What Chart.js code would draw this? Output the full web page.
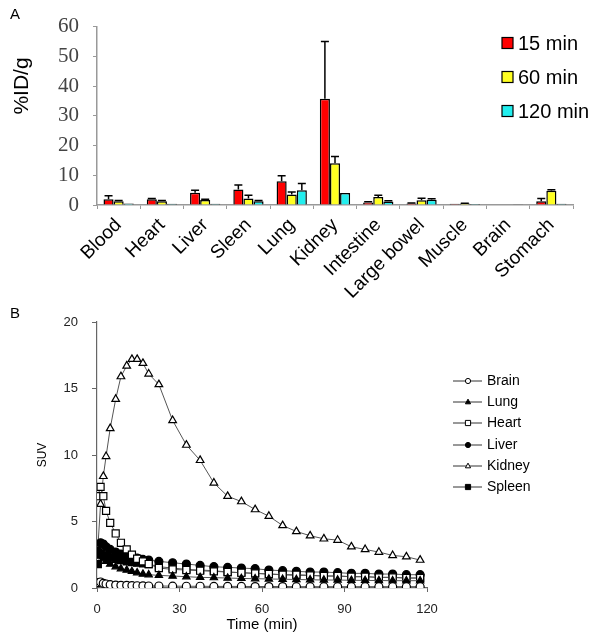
<!DOCTYPE html>
<html>
<head>
<meta charset="utf-8">
<script src="https://cdn.jsdelivr.net/npm/chart.js@4.4.1/dist/chart.umd.min.js"></script>
<style>
  body { margin: 0; background: #fff; }
  #wrap { position: relative; width: 600px; height: 637px; }
  #chartA { position: absolute; left: 0; top: 0; }
  #chartB { position: absolute; left: 0; top: 300px; }
</style>
</head>
<body>
<div id="wrap">
  <canvas id="chartA" width="600" height="320"></canvas>
  <canvas id="chartB" width="600" height="337"></canvas>
</div>
<script>
// --- Panel A: biodistribution (%ID/g) ---
const organs = ['Blood', 'Heart', 'Liver', 'Sleen', 'Lung', 'Kidney', 'Intestine', 'Large bowel', 'Muscle', 'Brain', 'Stomach'];
const min15 = [1.9, 1.9, 4.1, 5.2, 8.0, 35.7, 0.8, 0.5, 0.4, 0.2, 1.3];
const min15Err = [1.2, 0.3, 0.9, 1.5, 1.8, 19.3, 0.3, 0.2, 0, 0, 0.9];
const min60 = [1.3, 1.3, 1.7, 2.2, 3.5, 14.0, 2.7, 1.6, 0.5, 0.2, 4.8];
const min60Err = [0.2, 0.2, 0.2, 1.1, 0.9, 2.3, 0.6, 0.7, 0.1, 0, 0.3];
const min120 = [0.5, 0.4, 0.4, 1.3, 5.0, 4.0, 1.2, 1.8, 0.3, 0.1, 0.4];
const min120Err = [0, 0, 0, 0.2, 2.2, 0, 0.2, 0.3, 0, 0, 0];
const idTicks = [0, 10, 20, 30, 40, 50, 60];

// --- Panel B: time-activity curves (SUV) ---
const timeMin = [0.3, 1.3, 2.3, 3.3, 4.8, 6.8, 8.7, 10.8, 12.7, 14.6, 16.7, 18.8,
  22.5, 27.5, 32.5, 37.5, 42.5, 47.5, 52.5, 57.5, 62.5, 67.5, 72.5, 77.5, 82.5, 87.5, 92.5, 97.5, 102.5, 107.5, 112.5, 117.5];
const brain = [0.4, 0.45, 0.35, 0.3, 0.25, 0.22, 0.2, 0.2, 0.18, 0.17, 0.16, 0.15,
  0.15, 0.14, 0.13, 0.13, 0.12, 0.12, 0.12, 0.11, 0.11, 0.11, 0.1, 0.1, 0.1, 0.1, 0.1, 0.1, 0.1, 0.1, 0.1, 0.1];
const lung = [2.6, 2.4, 2.2, 2.0, 1.8, 1.6, 1.45, 1.35, 1.25, 1.15, 1.05, 1.0,
  0.95, 0.9, 0.85, 0.8, 0.78, 0.75, 0.72, 0.7, 0.68, 0.66, 0.64, 0.62, 0.6, 0.6, 0.58, 0.57, 0.56, 0.55, 0.55, 0.55];
const heart = [6.9, 7.6, 6.9, 5.8, 4.9, 4.1, 3.4, 2.9, 2.5, 2.2, 2.0, 1.8,
  1.5, 1.4, 1.35, 1.3, 1.25, 1.2, 1.15, 1.1, 1.05, 1.0, 1.0, 0.95, 0.9, 0.9, 0.85, 0.85, 0.8, 0.8, 0.75, 0.75];
const liver = [2.8, 3.4, 3.3, 3.1, 2.9, 2.7, 2.55, 2.45, 2.35, 2.25, 2.15, 2.1,
  2.0, 1.9, 1.8, 1.7, 1.6, 1.55, 1.5, 1.45, 1.35, 1.3, 1.25, 1.2, 1.2, 1.15, 1.1, 1.1, 1.05, 1.05, 1.0, 1.0];
const kidney = [3.0, 6.3, 8.4, 9.9, 12.0, 14.2, 15.9, 16.7, 17.2, 17.2, 16.9, 16.1,
  15.3, 12.6, 10.75, 9.6, 7.9, 6.9, 6.5, 5.9, 5.4, 4.7, 4.25, 3.93, 3.7, 3.6, 3.1, 2.9, 2.7, 2.45, 2.35, 2.1];
const spleen = [1.8, 2.6, 2.5, 2.4, 2.3, 2.2, 2.1, 2.0, 1.95, 1.9, 1.85, 1.8,
  1.6, 1.5, 1.4, 1.35, 1.3, 1.2, 1.15, 1.1, 1.05, 1.0, 0.95, 0.95, 0.9, 0.9, 0.85, 0.85, 0.8, 0.8, 0.75, 0.75];
const suvTicks = [0, 5, 10, 15, 20];
const timeTicks = [0, 30, 60, 90, 120];

const SANS = 'Arial, "Liberation Sans", sans-serif';

// upward error bars with caps
const errorBars = {
  id: 'errorBars',
  afterDatasetsDraw(chart) {
    const ctx = chart.ctx;
    const y = chart.scales.y;
    chart.data.datasets.forEach((ds, i) => {
      const meta = chart.getDatasetMeta(i);
      meta.data.forEach((bar, j) => {
        const err = ds.errors[j];
        if (!err) return;
        const top = y.getPixelForValue(ds.data[j] + err);
        ctx.save();
        ctx.strokeStyle = '#000';
        ctx.lineWidth = 1.5;
        ctx.beginPath();
        ctx.moveTo(bar.x, bar.y);
        ctx.lineTo(bar.x, top);
        ctx.moveTo(bar.x - 4, top);
        ctx.lineTo(bar.x + 4, top);
        ctx.stroke();
        ctx.restore();
      });
    });
  }
};

// legend boxes + y title + panel letter for A
const decorA = {
  id: 'decorA',
  afterDraw(chart) {
    const ctx = chart.ctx;
    ctx.save();
    ctx.fillStyle = '#000';
    ctx.font = '15px ' + SANS;
    ctx.textAlign = 'left';
    ctx.textBaseline = 'middle';
    ctx.fillText('A', 10, 15);

    // y title
    ctx.save();
    ctx.translate(22, 86);
    ctx.rotate(-Math.PI / 2);
    ctx.textAlign = 'center';
    ctx.font = '21px ' + SANS;
    ctx.fillText('%ID/g', 0, 0);
    ctx.restore();

    // legend
    const rows = [43, 77, 111];
    chart.data.datasets.forEach((ds, i) => {
      const yc = rows[i];
      ctx.fillStyle = ds.backgroundColor;
      ctx.fillRect(502, yc - 5.5, 11, 11);
      ctx.strokeStyle = '#000';
      ctx.lineWidth = 1.2;
      ctx.strokeRect(502, yc - 5.5, 11, 11);
      ctx.fillStyle = '#000';
      ctx.font = '20px ' + SANS;
      ctx.fillText(ds.label, 518, yc + 1);
    });
    ctx.restore();
  }
};

new Chart(document.getElementById('chartA'), {
  type: 'bar',
  data: {
    labels: organs,
    datasets: [
      { label: '15 min', data: min15, errors: min15Err, backgroundColor: '#ff0000' },
      { label: '60 min', data: min60, errors: min60Err, backgroundColor: '#ffff22' },
      { label: '120 min', data: min120, errors: min120Err, backgroundColor: '#22eeee' }
    ].map(ds => Object.assign(ds, {
      borderColor: '#000',
      borderWidth: 1.5,
      categoryPercentage: 0.7,
      barPercentage: 1.0
    }))
  },
  options: {
    responsive: false,
    animation: false,
    layout: { padding: { top: 25, right: 27, left: 0, bottom: 0 } },
    plugins: { legend: { display: false }, tooltip: { enabled: false } },
    scales: {
      x: {
        afterFit: s => { s.height = 115; },
        grid: { offset: true, drawOnChartArea: false, tickLength: 4, color: '#999' },
        border: { color: '#999', width: 1.5 },
        ticks: {
          autoSkip: false, minRotation: 45, maxRotation: 45, padding: 5,
          color: '#000', font: { family: SANS, size: 19 }
        }
      },
      y: {
        min: 0, max: 60,
        afterFit: s => { s.width = 97; },
        afterBuildTicks: s => { s.ticks = idTicks.map(v => ({ value: v })); },
        grid: { drawOnChartArea: false, tickLength: 4, color: '#999' },
        border: { color: '#999', width: 1.5 },
        ticks: { padding: 14, color: '#444', font: { family: '"Liberation Serif", serif', size: 21 } }
      }
    }
  },
  plugins: [errorBars, decorA]
});

// marker drawing for panel B legend
function drawMarker(ctx, style, fill, x, y, r) {
  ctx.beginPath();
  if (style === 'circle') {
    ctx.arc(x, y, r, 0, Math.PI * 2);
  } else if (style === 'rect') {
    ctx.rect(x - r, y - r, 2 * r, 2 * r);
  } else {
    ctx.moveTo(x, y - r * 1.1);
    ctx.lineTo(x + r, y + r * 0.7);
    ctx.lineTo(x - r, y + r * 0.7);
    ctx.closePath();
  }
  ctx.fillStyle = fill;
  ctx.fill();
  ctx.strokeStyle = '#000';
  ctx.lineWidth = 1;
  ctx.stroke();
}

const decorB = {
  id: 'decorB',
  afterDraw(chart) {
    const ctx = chart.ctx;
    ctx.save();
    ctx.fillStyle = '#000';
    ctx.font = '15px ' + SANS;
    ctx.textBaseline = 'middle';
    ctx.fillText('B', 10, 14);

    const rows = [81, 102, 123, 145, 166, 187];
    chart.data.datasets.forEach((ds, i) => {
      const yc = rows[i];
      ctx.strokeStyle = '#333';
      ctx.lineWidth = 1;
      ctx.beginPath();
      ctx.moveTo(453, yc);
      ctx.lineTo(482, yc);
      ctx.stroke();
      drawMarker(ctx, ds.pointStyle, ds.pointBackgroundColor, 468, yc, 2.6);
      ctx.fillStyle = '#000';
      ctx.font = '14px ' + SANS;
      ctx.textAlign = 'left';
      ctx.fillText(ds.label, 487, yc);
    });
    ctx.restore();
  }
};

function series(label, values, style, fill, radius) {
  return {
    label: label,
    data: timeMin.map((t, i) => ({ x: t, y: values[i] })),
    showLine: true,
    borderColor: '#555',
    borderWidth: 1,
    pointStyle: style,
    pointBackgroundColor: fill,
    pointBorderColor: '#000',
    pointBorderWidth: 1.2,
    pointRadius: radius
  };
}

new Chart(document.getElementById('chartB'), {
  type: 'scatter',
  data: {
    datasets: [
      series('Brain', brain, 'circle', '#fff', 4),
      series('Lung', lung, 'triangle', '#000', 4.2),
      series('Heart', heart, 'rect', '#fff', 5),
      series('Liver', liver, 'circle', '#000', 4),
      series('Kidney', kidney, 'triangle', '#fff', 4.4),
      series('Spleen', spleen, 'rect', '#000', 5)
    ]
  },
  options: {
    responsive: false,
    animation: false,
    layout: { padding: { top: 22, right: 173, left: 0, bottom: 0 } },
    plugins: { legend: { display: false }, tooltip: { enabled: false } },
    scales: {
      x: {
        type: 'linear', min: 0, max: 120,
        afterFit: s => { s.height = 49; },
        afterBuildTicks: s => { s.ticks = timeTicks.map(v => ({ value: v })); },
        grid: { drawOnChartArea: false, tickLength: 4, color: '#666' },
        border: { color: '#666', width: 1.2 },
        title: { display: true, text: 'Time (min)', color: '#000', font: { family: SANS, size: 15 }, padding: { top: 0, bottom: 3 } },
        ticks: { padding: 10, color: '#222', font: { family: SANS, size: 13 } }
      },
      y: {
        min: 0, max: 20,
        afterFit: s => { s.width = 97; },
        afterBuildTicks: s => { s.ticks = suvTicks.map(v => ({ value: v })); },
        grid: { drawOnChartArea: false, tickLength: 5, color: '#666' },
        border: { color: '#666', width: 1.2 },
        title: { display: true, text: 'SUV', color: '#000', font: { family: SANS, size: 12 }, padding: { top: 35, bottom: 0 } },
        ticks: { padding: 14, color: '#222', font: { family: SANS, size: 13 } }
      }
    }
  },
  plugins: [decorB]
});
</script>
</body>
</html>
